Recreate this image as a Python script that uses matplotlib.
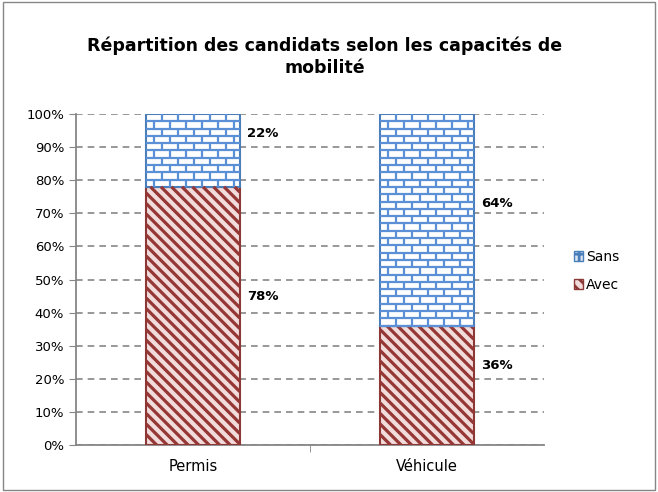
import numpy as np
import matplotlib.pyplot as plt
from matplotlib.patches import Rectangle, Patch
from matplotlib.collections import LineCollection

plt.rcParams['hatch.linewidth'] = 2.0
plt.rcParams['hatch.color'] = '#953735'

categories = ['Permis', 'Véhicule']
avec = [78, 36]
sans = [22, 64]
yticks = np.arange(0, 101, 10)

fig = plt.figure(figsize=(6.58, 4.92), dpi=100)
ax = fig.add_axes([0.1155, 0.0955, 0.711, 0.6728])
ax.set_xlim(-0.5, 1.5)
ax.set_ylim(0, 100)

x = np.arange(len(categories))
w = 0.4

b_avec = ax.bar(x, avec, w, color='#f2dcdb', edgecolor='#8c3836', linewidth=1.5, zorder=3)
b_sans = ax.bar(x, sans, w, bottom=avec, color='#ffffff', edgecolor='#4a7ebb', linewidth=1.5,
                zorder=3)

to_px = ax.transData
to_data = ax.transData.inverted()

# Hachures diagonales pour "Avec"
step = 10.5  # px
for p in b_avec:
    (px0, py0), (px1, py1) = to_px.transform([(p.get_x(), p.get_y()),
                                              (p.get_x() + p.get_width(), p.get_y() + p.get_height())])
    segs = []
    c = px0 + py0
    while c < px1 + py1:
        xa = max(px0, c - py1)
        xb = min(px1, c - py0)
        if xb > xa:
            segs.append(to_data.transform([(xa, c - xa), (xb, c - xb)]))
        c += step
    ax.add_collection(LineCollection(segs, colors='#953735', linewidths=2.3, zorder=3.5))

# Motif en briques pour "Sans"
bw = 16 / (ax.bbox.width / 2.0)
bh = 7.3 / (ax.bbox.height / 100.0)
for p in b_sans:
    x0, y0, pw, ph = p.get_x(), p.get_y(), p.get_width(), p.get_height()
    segs = []
    r = 0
    yb = y0 + ph
    while yb > y0:
        if r > 0:
            segs.append([(x0, yb), (x0 + pw, yb)])
        ybot = max(yb - bh, y0)
        off = (bw / 2) if r % 2 else 0
        xv = x0 + off
        while xv < x0 + pw:
            if xv > x0:
                segs.append([(xv, yb), (xv, ybot)])
            xv += bw
        r += 1
        yb -= bh
    ax.add_collection(LineCollection(segs, colors='#5b8fd6', linewidths=1.6, zorder=3.5))

# Étiquettes de valeurs
for i in range(len(categories)):
    ax.text(x[i] + w / 2 + 0.03, avec[i] / 2 + 6, f'{avec[i]}%', fontsize=9.5, fontweight='bold',
            va='center', ha='left')
    ax.text(x[i] + w / 2 + 0.03, avec[i] + sans[i] / 2 + 5, f'{sans[i]}%', fontsize=9.5,
            fontweight='bold', va='center', ha='left')

ax.set_yticks(yticks)
ax.set_yticklabels([f'{v}%' for v in yticks], fontsize=9.5)
ax.set_xticks(x)
ax.set_xticklabels(categories, fontsize=10.5)
ax.set_xticks([0.5], minor=True)
ax.tick_params(axis='x', which='major', length=0, pad=10)
ax.tick_params(axis='x', which='minor', length=5, color='#868686')
ax.tick_params(axis='y', length=5, color='#868686')

ax.grid(axis='y', linestyle=(0, (4, 3)), color='#868686', linewidth=1.2, zorder=0)
for s in ['top', 'right']:
    ax.spines[s].set_visible(False)
for s in ['left', 'bottom']:
    ax.spines[s].set_color('#868686')
    ax.spines[s].set_linewidth(1.3)

handles = [Patch(facecolor='#dbe5f1', edgecolor='#4a7ebb', hatch='++', label='Sans'),
           Patch(facecolor='#f2dcdb', edgecolor='#8c3836', hatch='\\\\\\', label='Avec')]
fig.legend(handles=handles, loc='center left', bbox_to_anchor=(0.853, 0.45),
           frameon=False, fontsize=10, handlelength=0.7, handleheight=0.7,
           handletextpad=0.2, labelspacing=1.0)

fig.text(0.493, 0.885, 'Répartition des candidats selon les capacités de\nmobilité',
         ha='center', va='center', fontsize=12.5, fontweight='bold', linespacing=1.3)

fig.patches.append(Rectangle((0.004, 0.004), 0.992, 0.992, transform=fig.transFigure,
                             fill=False, edgecolor='#868686', linewidth=1))

fig.savefig('out.png', dpi=100)
